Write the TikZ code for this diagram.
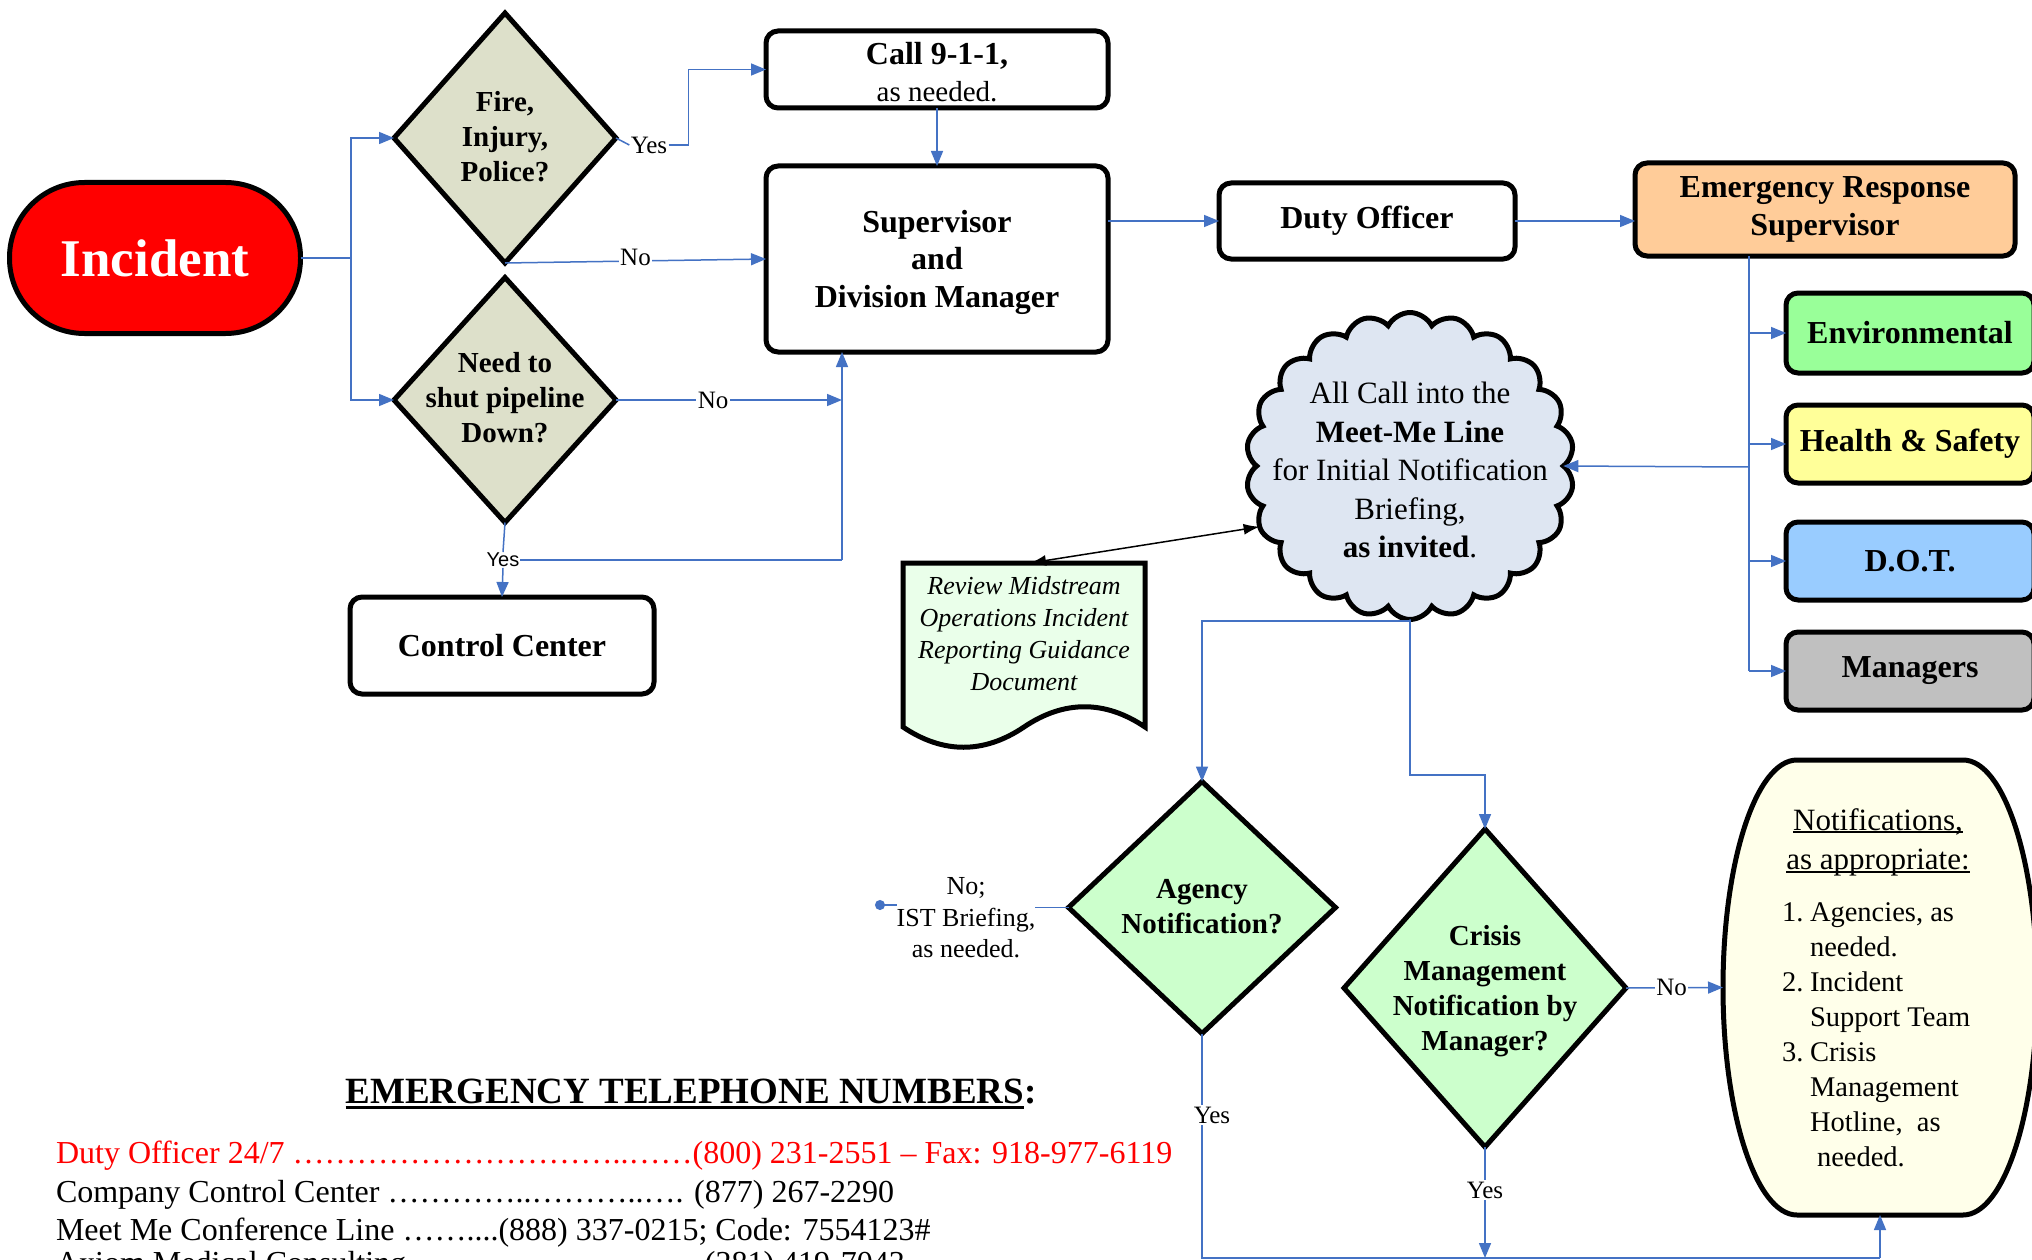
\documentclass[tikz,border=0pt]{standalone}
\usepackage{fontspec}
\setmainfont{Liberation Serif}
\newfontfamily\sansfont{Liberation Sans}
\usetikzlibrary{shapes.geometric,shapes.symbols,arrows.meta}

\definecolor{linkblue}{HTML}{4472C4}
\definecolor{incred}{HTML}{FF0000}
\definecolor{olivegrey}{HTML}{DDE0CA}
\definecolor{mintgreen}{HTML}{CCFFCC}
\definecolor{cloudblue}{HTML}{DEE6F2}
\definecolor{docgreen}{HTML}{EAFFEA}
\definecolor{peach}{HTML}{FFCC99}
\definecolor{envgreen}{HTML}{99FF99}
\definecolor{hsyellow}{HTML}{FFFF99}
\definecolor{dotblue}{HTML}{99CCFF}
\definecolor{mgrgrey}{HTML}{C0C0C0}
\definecolor{ivory}{HTML}{FFFFEA}

\newcommand{\fsz}[2]{\fontsize{#1}{#2}\selectfont}
% underline with a chosen depth below the baseline and a chosen thickness
\newcommand{\ulbar}[3]{\setbox0=\hbox{#3}\rlap{\rule[-#1]{\wd0}{#2}}\box0}

\begin{document}
\begin{tikzpicture}[x=1pt,y=-1pt,
  every node/.style={inner sep=0pt, outer sep=0pt},
  card/.style={draw=black, line width=5pt, rounded corners=12pt, align=center,
               font=\fsz{32}{38}\bfseries},
  decide/.style={diamond, draw=black, line width=5pt},
  dtext/.style={align=center, font=\fsz{29}{35}\bfseries},
  link/.style={draw=linkblue, line width=1.5pt},
  arr/.style={link, -{Triangle[length=15pt,width=12pt]}},
  lbl/.style={fill=white, inner sep=1.5pt, font=\fsz{25}{28}},
  phone/.style={anchor=base west, font=\fsz{32}{38}},
]
\fill[white] (0,0) rectangle (2032,1260);
\useasboundingbox (0,0) rectangle (2032,1260);
\clip (0,0) rectangle (2032,1260);

% ---------- start and first decisions ----------
\node[draw=black, line width=5pt, fill=incred, rounded corners=75pt,
      minimum width=291pt, minimum height=151pt, text=white,
      font=\fsz{53}{60}\bfseries] (incident) at (155,258) {Incident};

\node[decide, fill=olivegrey, minimum width=222pt, minimum height=250pt] (fire) at (505,138) {};
\node[dtext] (firetxt) at (505,137) {Fire,\\Injury,\\Police?};
\node[decide, fill=olivegrey, minimum width=222pt, minimum height=245pt] (need) at (505,400) {};
\node[dtext] (needtxt) at (505,398) {Need to\\shut pipeline\\Down?};

% ---------- boxes ----------
\node[card, minimum width=342pt, minimum height=77pt] (call) at (937,69.5) {};
\node[align=center, font=\fsz{32}{37}\bfseries] (calltxt) at (937,72)
  {Call 9-1-1,\\{\mdseries\fsz{29}{37}as needed.}};
\node[card, minimum width=342pt, minimum height=186pt] (sup) at (937,259) {};
\node[align=center, font=\fsz{32}{37.5}\bfseries] (suptxt) at (937,262)
  {Supervisor\\and\\Division Manager};
\node[card, minimum width=304pt, minimum height=97pt] (cc) at (502,645.5) {Control Center};
\node[card, minimum width=296pt, minimum height=76pt] (duty) at (1367,221) {Duty Officer};
\node[card, fill=peach, minimum width=380pt, minimum height=93pt] (ers) at (1825,209.5)
  {Emergency Response\\Supervisor};

\node[card, fill=envgreen, minimum width=248pt, minimum height=80pt] (env) at (1910,333) {Environmental};
\node[card, fill=hsyellow, minimum width=248pt, minimum height=78pt] (hs) at (1910,444) {Health \& Safety};
\node[card, fill=dotblue, minimum width=248pt, minimum height=78pt] (dotbox) at (1910,561) {D.O.T.};
\node[card, fill=mgrgrey, minimum width=248pt, minimum height=78pt] (mgr) at (1910,671) {Managers};

% ---------- meet-me cloud ----------
\node[cloud, cloud puffs=22, cloud puff arc=125, cloud ignores aspect, draw=black,
      line width=5pt, fill=cloudblue, minimum width=328pt, minimum height=307pt] (meet) at (1410,466) {};
\node[align=center, font=\fsz{31}{38.5}] (meettxt) at (1410,470)
  {All Call into the\\\textbf{Meet-Me Line}\\for Initial Notification\\Briefing,\\\textbf{as invited}.};

% ---------- guidance document ----------
\node[minimum width=242pt, minimum height=183pt] (doc) at (1024,654.5) {};
\draw[black, line width=5pt, fill=docgreen, line join=miter]
  (doc.north west) -- (doc.north east) -- (1145,727)
  .. controls (1105,700) and (1064,700) .. (1024,727)
  .. controls (984,754) and (943,754) .. (903,727) -- cycle;
\node[align=center, font=\fsz{26}{32}\itshape] (doctxt) at (1024,634)
  {Review Midstream\\Operations Incident\\Reporting Guidance\\Document};

% ---------- lower decisions ----------
\node[decide, fill=mintgreen, minimum width=267pt, minimum height=252pt] (agency) at (1202,907.5) {};
\node[dtext] (agencytxt) at (1202,907) {Agency\\Notification?};
\node[decide, fill=mintgreen, minimum width=282pt, minimum height=318pt] (crisis) at (1485,988) {};
\node[dtext] (crisistxt) at (1485,991) {Crisis\\Management\\Notification by\\Manager?};

\node[align=center, font=\fsz{26}{31.5}] (ist) at (966,918) {No;\\IST Briefing,\\as needed.};

% ---------- notifications barrel ----------
\node[minimum width=314pt, minimum height=455pt] (notif) at (1880,987.5) {};
\draw[black, line width=5pt, fill=ivory]
  (1797,760) -- (1963,760)
  .. controls (2004,760) and (2037,862) .. (2037,987.5)
  .. controls (2037,1113) and (2004,1215) .. (1963,1215)
  -- (1797,1215)
  .. controls (1756,1215) and (1723,1113) .. (1723,987.5)
  .. controls (1723,862) and (1756,760) .. (1797,760) -- cycle;
\node[align=center, font=\fsz{31}{39}] (notiftitle) at (1878,842)
  {\ulbar{3pt}{1.8pt}{Notifications,}\\\ulbar{4pt}{1.8pt}{as appropriate:}};
\node[align=left, anchor=north west, font=\fsz{28.5}{35}] (notiflist) at (1782,903)
  {\makebox[28pt][l]{1.}Agencies, as\\
   \hspace*{28pt}needed.\\
   \makebox[28pt][l]{2.}Incident\\
   \hspace*{28pt}Support Team\\
   \makebox[28pt][l]{3.}Crisis\\
   \hspace*{28pt}Management\\
   \hspace*{28pt}Hotline,\ \ as\\
   \hspace*{35pt}needed.};

% ---------- connector labels ----------
\node[lbl] (yesfire) at (649,145) {Yes};
\node[fill=white, inner sep=1pt, font=\sansfont\fsz{20}{24}] (yesneed) at (503,560) {Yes};

% ---------- connectors ----------
\coordinate (fan) at (351,258);
\draw[link] (incident.east) -- (fan);
\draw[arr] (fan) |- (fire.west);
\draw[arr] (fan) |- (need.west);

\draw[link] (fire.east) -- (yesfire.west);
\draw[arr] (yesfire.east) -- ++(20,0) |- (call.west);
\draw[arr] (fire.south) -- node[lbl, yshift=4pt] {No} (sup.west);

\coordinate (riser) at (842,560);
\draw[arr] (need.east) -- node[lbl, pos=0.43] {No} (need.east -| riser);
\draw[link] (need.south) -- (yesneed.north);
\draw[arr] (yesneed.south) -- (cc.north);
\draw[link] (yesneed.east) -- (riser);
\draw[arr] (riser) -- (riser |- sup.south);

\draw[arr] (call.south) -- (sup.north);
\draw[arr] (sup.east |- duty.west) -- (duty.west);
\draw[arr] (duty.east) -- (duty.east -| ers.west);

\coordinate (trunk) at (1749,0);
\draw[link] (ers.south -| trunk) -- (mgr.west -| trunk);
\foreach \b in {env,hs,dotbox,mgr} \draw[arr] (\b.west -| trunk) -- (\b.west);
\coordinate (tocloud) at (1749,467);
\draw[arr] (tocloud) -- (meet.east);

\draw[black, line width=1.5pt, {Latex[length=16pt,width=11pt]}-{Latex[length=16pt,width=11pt]}]
  ([xshift=6pt]doc.north) -- (meet.202);

\coordinate (split) at (1410,621);
\draw[link] (meet.south) -- (split);
\draw[arr] (split) -| (agency.north);
\draw[arr] (split) -- (1410,775) -| (crisis.north);

\draw[link] (agency.west) -- (agency.west -| ist.east);
\coordinate (istdot) at (875,905);
\draw[link, {Circle[length=10pt]}-] (istdot) -- (ist.west |- istdot);

\coordinate (bl) at (1202,1258);
\coordinate (br) at (1880,1258);
\draw[link] (agency.south) -- (bl) -- (br);
\draw[arr] (br) -- (notif.south);
\draw[arr] (crisis.south) -- (crisis.south |- bl);
\draw[arr] (crisis.east) -- node[lbl, pos=0.47] {No} (notif.west);

\node[lbl] (yesagency) at (1212,1115) {Yes};
\node[lbl] (yescrisis) at (1485,1190) {Yes};

% ---------- emergency telephone numbers ----------
\node[anchor=base, font=\fsz{37}{44}\bfseries] (ettitle) at (691,1103)
  {\ulbar{6pt}{3pt}{EMERGENCY TELEPHONE NUMBERS}:};
\node[phone, text=incred] (ph1) at (56,1163)
  {Duty Officer 24/7 …………………………..……(800) 231-2551 – Fax: 918-977-6119};
\node[phone] (ph2) at (56,1202)
  {Company Control Center …………..………..…. (877) 267-2290};
\node[phone] (ph3) at (56,1240)
  {Meet Me Conference Line ……....(888) 337-0215; Code: 7554123\#};
\node[phone] (ph4) at (56,1273)
  {Axiom Medical Consulting ……………………... (281) 419-7043};
\end{tikzpicture}
\end{document}
